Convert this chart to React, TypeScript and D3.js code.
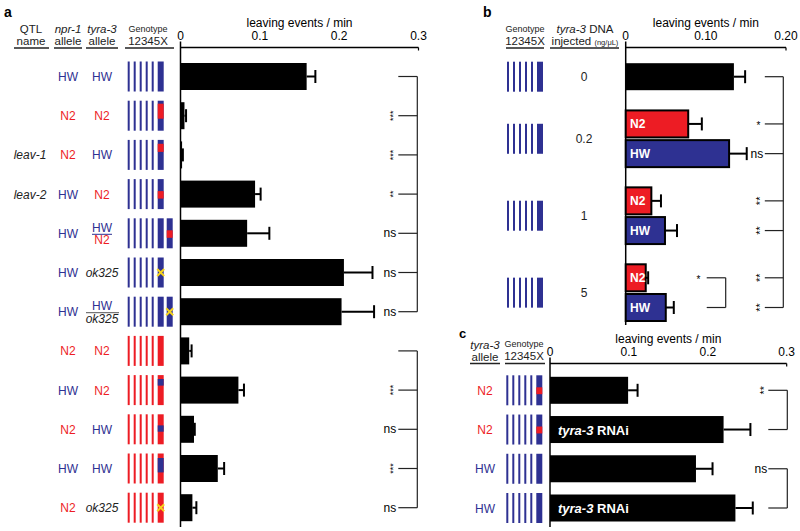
import React from "react";
import * as d3 from "d3";

const F = "'Liberation Sans', Arial, Helvetica, sans-serif";
const BLUE = "#2e3192";
const RED = "#ed1c24";
const YEL = "#f6d31e";
const colorOf = (a: string) => (a === "HW" ? BLUE : a === "N2" ? RED : "#222");

// ---------- Panel a ----------
const aQtl = ["", "", "leav-1", "leav-2", "", "", "", "", "", "", "", ""];
const aNpr1 = ["HW", "N2", "N2", "HW", "HW", "HW", "HW", "N2", "HW", "N2", "HW", "N2"];
const aTyra3 = ["HW", "N2", "HW", "N2", "HW/N2", "ok325", "HW/ok325", "N2", "N2", "HW", "HW", "ok325"];
const aBackground = ["HW", "HW", "HW", "HW", "HW", "HW", "HW", "N2", "N2", "N2", "N2", "N2"];
const aXMark: (number[] | string | null)[] = [null, [0.1, 0.6], [0.13, 0.4], [0.4, 0.65], null, "ko", null, null, [0.13, 0.35], [0.37, 0.58], [0.15, 0.63], "ko"];
const aSecondX: (number[] | string | null)[] = ["", "", "", "", [0.4, 0.65], "", "ko", "", "", "", "", ""];
const aMean = [0.159, 0.005, 0.002, 0.094, 0.084, 0.206, 0.203, 0.011, 0.073, 0.017, 0.047, 0.015];
const aUpper = [0.170, 0.007, 0.003, 0.101, 0.112, 0.242, 0.244, 0.014, 0.080, 0.018, 0.055, 0.020];
const aSig = ["", "***", "***", "**", "ns", "ns", "ns", "", "***", "ns", "***", "ns"];
const aGroups = [[0, 6], [7, 11]];
const aTicks = [0, 0.1, 0.2, 0.3];
const aTickLabels = ["0", "0.1", "0.2", "0.3"];

// ---------- Panel b ----------
const bDose = ["0", "0.2", "1", "5"];
const bBarGroup = [0, 1, 1, 2, 2, 3, 3];
const bBarAllele = ["", "N2", "HW", "N2", "HW", "N2", "HW"];
const bMean = [0.135, 0.078, 0.129, 0.032, 0.049, 0.025, 0.050];
const bUpper = [0.149, 0.095, 0.151, 0.044, 0.064, 0.028, 0.060];
const bSig = ["", "*", "ns", "**", "**", "**", "**"];
const bTicks = [0, 0.1, 0.2];
const bTickLabels = ["0", "0.10", "0.20"];

// ---------- Panel c ----------
const cAllele = ["N2", "N2", "HW", "HW"];
const cRnai = [false, true, false, true];
const cXMark: (number[] | null)[] = [[0.4, 0.63], [0.4, 0.63], null, null];
const cMean = [0.099, 0.220, 0.185, 0.235];
const cUpper = [0.111, 0.254, 0.206, 0.257];
const cPairs = [[0, 1, "**"], [2, 3, "ns"]];
const cTicks = [0, 0.1, 0.2, 0.3];
const cTickLabels = ["0", "0.1", "0.2", "0.3"];

const GH = 30; // glyph height
const BH = 27; // bar height

function XChrom({ x, y, bg, mark }: any) {
  const bgc = colorOf(bg);
  const other = bg === "HW" ? RED : BLUE;
  return (
    <g>
      <rect x={x} y={y - GH / 2} width={6} height={GH} fill={bgc} />
      {Array.isArray(mark) && (
        <rect x={x} y={y - GH / 2 + mark[0] * GH} width={6} height={(mark[1] - mark[0]) * GH} fill={other} />
      )}
      {mark === "ko" && (
        <g stroke={YEL} strokeWidth={2}>
          <line x1={x - 0.5} x2={x + 6.5} y1={y - 3.5} y2={y + 3.5} />
          <line x1={x - 0.5} x2={x + 6.5} y1={y + 3.5} y2={y - 3.5} />
        </g>
      )}
    </g>
  );
}

function Genotype({ x0, y, bg, mark, second }: any) {
  const c = colorOf(bg);
  return (
    <g>
      {d3.range(5).map((k) => (
        <rect key={k} x={x0 + k * 6 - 1} y={y - GH / 2} width={2} height={GH} fill={c} />
      ))}
      <XChrom x={x0 + 29} y={y} bg={bg} mark={mark} />
      {second !== "" && second !== undefined && <XChrom x={x0 + 38} y={y} bg={bg} mark={second} />}
    </g>
  );
}

function TopAxis({ x, y, ticks, labels, bottom, title }: any) {
  const [r0, r1] = x.range();
  return (
    <g fontFamily={F}>
      <text x={(r0 + r1) / 2} y={y - 21} textAnchor="middle" fontSize={12}>{title}</text>
      <line x1={r0} x2={r1} y1={y} y2={y} stroke="#000" strokeWidth={1.5} />
      <line x1={r0} x2={r0} y1={y - 6} y2={bottom} stroke="#000" strokeWidth={1.5} />
      <line x1={r1} x2={r1} y1={y} y2={y + 3} stroke="#000" strokeWidth={1.2} />
      {ticks.map((t: number, i: number) => (
        <text key={i} x={x(t)} y={y - 8} textAnchor="middle" fontSize={12}>{labels[i]}</text>
      ))}
    </g>
  );
}

function Bar({ x, y, v, up, fill = "#000", stroke = "none" }: any) {
  const x0 = x(0);
  return (
    <g>
      <line x1={x(v)} x2={x(up)} y1={y} y2={y} stroke="#000" strokeWidth={2} />
      <line x1={x(up)} x2={x(up)} y1={y - 6.5} y2={y + 6.5} stroke="#000" strokeWidth={2} />
      <rect x={x0} y={y - BH / 2} width={Math.max(0, x(v) - x0)} height={BH} fill={fill} stroke={stroke} strokeWidth={stroke === "none" ? 0 : 2} />
    </g>
  );
}

function SigLabel({ x, y, s, fs }: any) {
  if (!s) return null;
  if (s === "ns")
    return <text x={x} y={y + 4} textAnchor="end" fontSize={12} fontFamily={F}>ns</text>;
  if (s === "*")
    return <text x={x - 3} y={y + 5} textAnchor="end" fontSize={10} fontFamily={F}>*</text>;
  return (
    <text transform={`translate(${x - 6},${y}) rotate(-90)`} textAnchor="middle" fontSize={fs} fontFamily={F} dy={fs * 0.58}>{s}</text>
  );
}

export default function App() {
  // panel a scales
  const xA = d3.scaleLinear().domain([0, 0.3]).range([180.5, 418.5]);
  const yA = d3.scalePoint<number>().domain(d3.range(12)).range([76.5, 507.7]);
  // panel b scales
  const gap = 0.59;
  const bSlot = bBarGroup.map((g, i) => i + g * gap);
  const xB = d3.scaleLinear().domain([0, 0.2]).range([625.7, 786]);
  const yB = d3.scaleLinear().domain([0, d3.max(bSlot) as number]).range([76.7, 307.5]);
  const bGroupY = bDose.map((_, g) => d3.mean(bSlot.filter((_, i) => bBarGroup[i] === g).map((s) => yB(s))) as number);
  // panel c scales
  const xC = d3.scaleLinear().domain([0, 0.3]).range([550, 786.7]);
  const yC = d3.scalePoint<number>().domain(d3.range(4)).range([390.3, 508]);

  const hdr = (x: number, y: number, t: string, fs = 12, italic = false) => (
    <text x={x} y={y} textAnchor="middle" fontSize={fs} fontFamily={F} fontStyle={italic ? "italic" : "normal"} fill="#222">{t}</text>
  );
  const underline = (x1: number, x2: number, y: number) => (
    <line x1={x1} x2={x2} y1={y} y2={y} stroke="#222" strokeWidth={1.5} />
  );

  return (
    <svg width={800} height={531} style={{ position: "absolute", left: 0, top: 0, background: "#fff" }} fontFamily={F}>
      {/* ---------------- Panel a ---------------- */}
      <text x={4} y={17} fontSize={14} fontWeight="bold">a</text>
      {hdr(31, 32.5, "QTL", 11.5)}
      {hdr(31, 44.5, "name", 11.5)}
      {underline(14, 49, 48)}
      {hdr(68, 32.5, "npr-1", 11.5, true)}
      {hdr(68, 44.5, "allele", 11.5)}
      {underline(54, 82, 48)}
      {hdr(102, 32.5, "tyra-3", 11.5, true)}
      {hdr(102, 44.5, "allele", 11.5)}
      {underline(86, 118, 48)}
      {hdr(148, 31.5, "Genotype", 9)}
      {hdr(148, 44.5, "12345X", 11.5)}
      {underline(125, 174, 48)}

      <TopAxis x={xA} y={47.5} ticks={aTicks} labels={aTickLabels} bottom={527} title="leaving events / min" />

      {d3.range(12).map((i) => {
        const y = yA(i) as number;
        const t3 = aTyra3[i];
        let tyraEl: any;
        if (t3.includes("/")) {
          const [top, bot] = t3.split("/");
          tyraEl = (
            <g>
              <text x={102} y={y - 1.5} textAnchor="middle" fontSize={12} fill={colorOf(top)}>{top}</text>
              <line x1={bot === "N2" ? 92 : 86} x2={bot === "N2" ? 112 : 119} y1={y + 1} y2={y + 1} stroke={bot === "N2" ? BLUE : "#555"} strokeWidth={1} />
              <text x={102} y={y + 11} textAnchor="middle" fontSize={12} fill={colorOf(bot)} fontStyle={bot === "ok325" ? "italic" : "normal"}>{bot}</text>
            </g>
          );
        } else {
          tyraEl = (
            <text x={102} y={y + 4.5} textAnchor="middle" fontSize={12} fill={colorOf(t3)} fontStyle={t3 === "ok325" ? "italic" : "normal"}>{t3}</text>
          );
        }
        return (
          <g key={i}>
            {aQtl[i] && <text x={30} y={y + 4.5} textAnchor="middle" fontSize={12} fontStyle="italic" fill="#222">{aQtl[i]}</text>}
            <text x={68} y={y + 4.5} textAnchor="middle" fontSize={12} fill={colorOf(aNpr1[i])}>{aNpr1[i]}</text>
            {tyraEl}
            <Genotype x0={128.7} y={y} bg={aBackground[i]} mark={aXMark[i]} second={aSecondX[i]} />
            <Bar x={xA} y={y} v={aMean[i]} up={aUpper[i]} />
          </g>
        );
      })}
      {aGroups.map(([s, e], gi) => {
        const bx = 417.3;
        return (
          <g key={gi}>
            <line x1={bx} x2={bx} y1={yA(s)} y2={yA(e)} stroke="#222" strokeWidth={1.2} />
            {d3.range(s, e + 1).map((i) => (
              <g key={i}>
                <line x1={bx - 19} x2={bx} y1={yA(i)} y2={yA(i)} stroke="#222" strokeWidth={1.2} />
                <SigLabel x={bx - 21} y={yA(i)} s={aSig[i]} fs={9} />
              </g>
            ))}
          </g>
        );
      })}

      {/* ---------------- Panel b ---------------- */}
      <text x={483} y={17} fontSize={14} fontWeight="bold">b</text>
      {hdr(525, 31.5, "Genotype", 9)}
      {hdr(525, 44.5, "12345X", 11.5)}
      {underline(506, 544, 48)}
      <text x={585} y={32.5} textAnchor="middle" fontSize={11.5} fill="#222">
        <tspan fontStyle="italic">tyra-3</tspan> DNA
      </text>
      <text x={585} y={44.5} textAnchor="middle" fontSize={11.5} fill="#222">
        injected <tspan fontSize={7.5}>(ng/μL)</tspan>
      </text>
      {underline(550, 619, 48)}
      <TopAxis x={xB} y={47.5} ticks={bTicks} labels={bTickLabels} bottom={325} title="leaving events / min" />
      {bDose.map((d, g) => (
        <g key={g}>
          <Genotype x0={508} y={bGroupY[g]} bg="HW" mark={null} second="" />
          <text x={584} y={bGroupY[g] + 4.5} textAnchor="middle" fontSize={12} fill="#222">{d}</text>
        </g>
      ))}
      {bMean.map((v, i) => {
        const y = yB(bSlot[i]);
        const al = bBarAllele[i];
        return (
          <g key={i}>
            <Bar x={xB} y={y} v={v} up={bUpper[i]} fill={al ? colorOf(al) : "#000"} stroke={al ? "#000" : "none"} />
            {al && <text x={630} y={y + 4.5} fontSize={12} fontWeight="bold" fill="#fff">{al}</text>}
          </g>
        );
      })}
      {(() => {
        const bx = 783.3;
        return (
          <g>
            <line x1={bx} x2={bx} y1={yB(bSlot[0])} y2={yB(bSlot[bSlot.length - 1])} stroke="#222" strokeWidth={1.2} />
            {bMean.map((_, i) => (
              <g key={i}>
                <line x1={bx - 18.5} x2={bx} y1={yB(bSlot[i])} y2={yB(bSlot[i])} stroke="#222" strokeWidth={1.2} />
                <SigLabel x={bx - 20} y={yB(bSlot[i])} s={bSig[i]} fs={11} />
              </g>
            ))}
            {/* within-dose comparison at 5 ng/uL */}
            <line x1={706.7} x2={725.7} y1={yB(bSlot[5])} y2={yB(bSlot[5])} stroke="#222" strokeWidth={1.2} />
            <line x1={706.7} x2={725.7} y1={yB(bSlot[6])} y2={yB(bSlot[6])} stroke="#222" strokeWidth={1.2} />
            <line x1={725.7} x2={725.7} y1={yB(bSlot[5])} y2={yB(bSlot[6])} stroke="#222" strokeWidth={1.2} />
            <text x={700.5} y={yB(bSlot[5]) + 5} textAnchor="end" fontSize={10}>*</text>
          </g>
        );
      })()}

      {/* ---------------- Panel c ---------------- */}
      <text x={459} y={338} fontSize={13} fontWeight="bold">c</text>
      {hdr(485, 348.5, "tyra-3", 11.5, true)}
      {hdr(485, 360.5, "allele", 11.5)}
      {underline(470, 500, 363.5)}
      {hdr(524, 346.5, "Genotype", 9)}
      {hdr(524, 360, "12345X", 11.5)}
      {underline(505, 545, 363.5)}
      <TopAxis x={xC} y={363.5} ticks={cTicks} labels={cTickLabels} bottom={527} title="leaving events / min" />
      {cAllele.map((al, i) => {
        const y = yC(i) as number;
        return (
          <g key={i}>
            <text x={485} y={y + 4.5} textAnchor="middle" fontSize={12} fill={colorOf(al)}>{al}</text>
            <Genotype x0={507.3} y={y} bg="HW" mark={cXMark[i]} second="" />
            <Bar x={xC} y={y} v={cMean[i]} up={cUpper[i]} />
            {cRnai[i] && (
              <text x={558} y={y + 5} fontSize={13} fontWeight="bold" fill="#fff">
                <tspan fontStyle="italic">tyra-3</tspan> RNAi
              </text>
            )}
          </g>
        );
      })}
      {cPairs.map(([a, b, s]: any, k) => {
        const bx = 787.3;
        return (
          <g key={k}>
            <line x1={bx - 19} x2={bx} y1={yC(a)} y2={yC(a)} stroke="#222" strokeWidth={1.2} />
            <line x1={bx - 19} x2={bx} y1={yC(b)} y2={yC(b)} stroke="#222" strokeWidth={1.2} />
            <line x1={bx} x2={bx} y1={yC(a)} y2={yC(b)} stroke="#222" strokeWidth={1.2} />
            <SigLabel x={bx - 20} y={yC(a)} s={s} fs={11} />
          </g>
        );
      })}
    </svg>
  );
}
